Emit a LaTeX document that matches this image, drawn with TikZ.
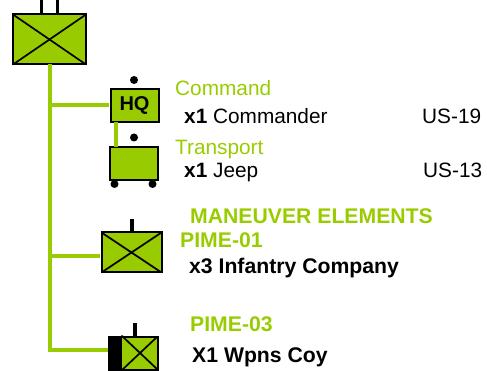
\documentclass[tikz,border=0pt]{standalone}
\usepackage{fontspec}
\setmainfont{Liberation Sans}
\definecolor{unitgreen}{HTML}{99CC00}
\tikzset{
  unit/.style={draw=black,fill=unitgreen,line width=2pt,outer sep=0pt,inner sep=0pt},
  feed/.style={draw=unitgreen,line width=4pt},
  stem/.style={draw=black,line width=3.2pt},
  xline/.style={draw=black,line width=1.7pt},
  blob/.style={circle,fill=black,inner sep=0pt,minimum size=8pt},
  head/.style={anchor=base west,inner sep=0pt,text=unitgreen,font=\fontsize{20.8}{24}\selectfont},
  headb/.style={anchor=base west,inner sep=0pt,text=unitgreen,font=\fontsize{21.2}{24}\selectfont\bfseries},
  item/.style={anchor=base west,inner sep=0pt,font=\fontsize{20.8}{24}\selectfont},
  itemb/.style={anchor=base west,inner sep=0pt,font=\fontsize{21.2}{24}\selectfont\bfseries}
}
\begin{document}
\begin{tikzpicture}[x=1pt,y=-1pt]
\useasboundingbox (0,0) rectangle (487,371);
%% top unit
\node[unit,minimum width=73pt,minimum height=50pt] (bn) at (49.5,39.5) {};
\draw[xline] (bn.north west)--(bn.south east);
\draw[xline] (bn.north east)--(bn.south west);
\coordinate (stemA) at (41.5,0);
\coordinate (stemB) at (57.5,0);
\draw[stem] (stemA)--(stemA |- bn.north);
\draw[stem] (stemB)--(stemB |- bn.north);
%% headquarters and vehicle
\node[unit,minimum width=48pt,minimum height=33pt,font=\fontsize{20}{20}\selectfont\bfseries] (hq) at (134.5,105.5) {HQ};
\node[unit,minimum width=48pt,minimum height=33pt] (jeep) at (133.5,163.5) {};
\node[blob] (hqdot) at (134,80) {};
\node[blob] (jeepdot) at (134,137.5) {};
\node[blob] (wheelL) at (114.5,184) {};
\node[blob] (wheelR) at (152.5,184) {};
%% maneuver units
\node[unit,minimum width=60pt,minimum height=40pt] (pimeA) at (131.5,252.5) {};
\draw[xline] (pimeA.north west)--(pimeA.south east);
\draw[xline] (pimeA.north east)--(pimeA.south west);
\coordinate (stemC) at (132,219);
\draw[stem] (stemC)--(stemC |- pimeA.north);
\node[unit,minimum width=49pt,minimum height=33pt] (pimeC) at (133,353) {};
\node[fill=black,outer sep=0pt,inner sep=0pt,minimum width=13pt,minimum height=35pt] (wpns) at (115,353) {};
\draw[xline] (wpns.north east)--(pimeC.south east);
\draw[xline] (pimeC.north east)--(wpns.south east);
\coordinate (stemD) at (135,323);
\draw[stem] (stemD)--(stemD |- pimeC.north);
%% green lines
\coordinate (feedend) at (107.5,349.5);
\coordinate (feedmid) at (100,256);
\coordinate (feedhq) at (109,105.5);
\draw[feed] (bn.south) |- (feedend);
\draw[feed] (feedhq)--(feedhq -| bn.south);
\draw[feed] (feedmid)--(feedmid -| bn.south);
\coordinate (linkx) at (115.5,0);
\draw[feed] (linkx |- hq.south)--(linkx |- jeep.north);
%% text
\node[head] (cmdhead) at (175,95.5) {Command};
\node[item] (cmdtxt) at (184,123.5) {\textbf{x1} Commander};
\node[item] (cmdtype) at (422,123.5) {US-19};
\node[head] (trnhead) at (175,155) {Transport};
\node[item] (trntxt) at (184,178) {\textbf{x1} Jeep};
\node[item] (trntype) at (423,178) {US-13};
\node[headb] (manhead) at (190,223.5) {MANEUVER ELEMENTS};
\node[headb] (pimeAhead) at (180,248) {PIME-01};
\node[itemb] (pimeAtxt) at (189,273) {x3 Infantry Company};
\node[headb] (pimeChead) at (190,331) {PIME-03};
\node[itemb] (pimeCtxt) at (192,362) {X1 Wpns Coy};
\end{tikzpicture}
\end{document}
